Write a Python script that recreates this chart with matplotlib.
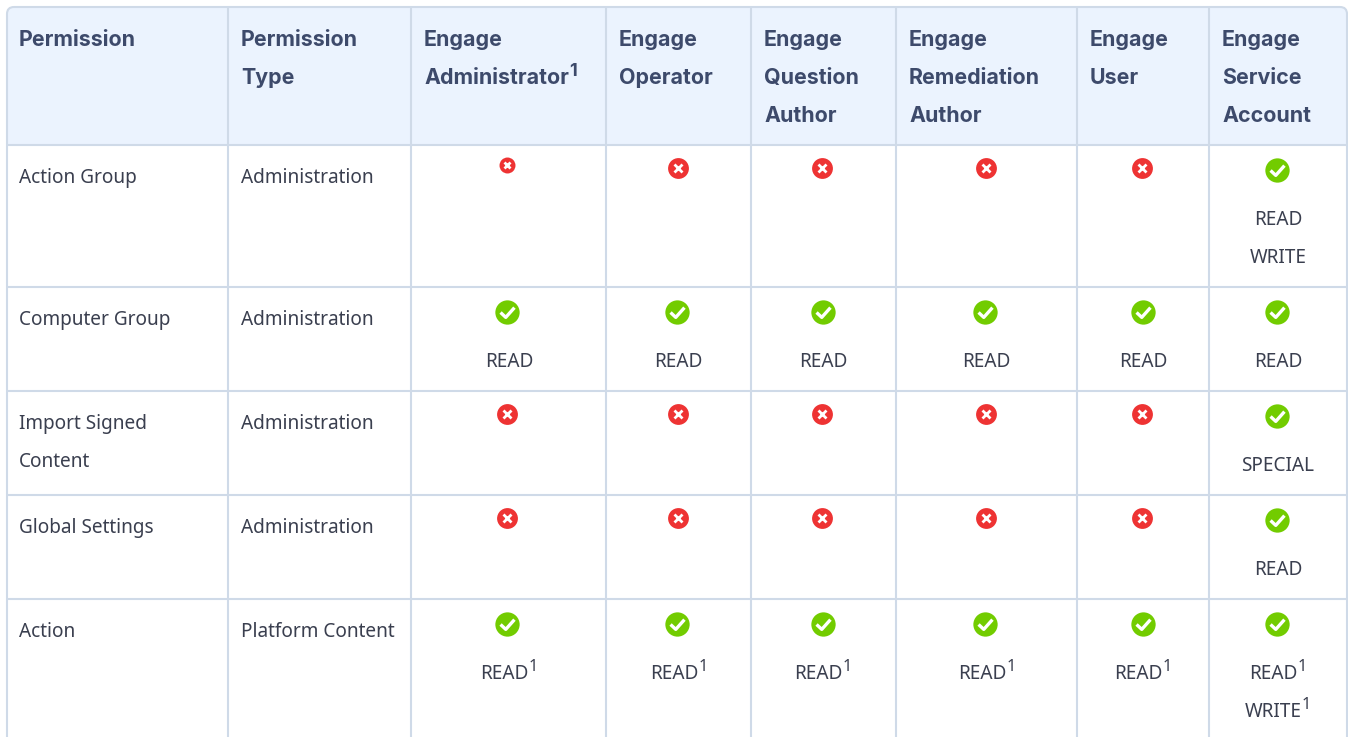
# permissions table
import matplotlib
matplotlib.use("Agg")
import matplotlib.pyplot as plt
from matplotlib.patches import FancyBboxPatch, Rectangle
from matplotlib.path import Path

# header lines, "^" marks a superscript 1
headers = [
    ["Permission"],
    ["Permission", "Type"],
    ["Engage", "Administrator^"],
    ["Engage", "Operator"],
    ["Engage", "Question", "Author"],
    ["Engage", "Remediation", "Author"],
    ["Engage", "User"],
    ["Engage", "Service", "Account"],
]
permissions = [["Action Group"], ["Computer Group"], ["Import Signed", "Content"], ["Global Settings"], ["Action"]]
permission_types = ["Administration", "Administration", "Administration", "Administration", "Platform Content"]

# one list per role, None = red cross, otherwise the access lines under the green tick
admin = [None, ["READ"], None, None, ["READ^"]]
operator = [None, ["READ"], None, None, ["READ^"]]
question_author = [None, ["READ"], None, None, ["READ^"]]
remediation_author = [None, ["READ"], None, None, ["READ^"]]
user = [None, ["READ"], None, None, ["READ^"]]
service_account = [["READ", "WRITE"], ["READ"], ["SPECIAL"], ["READ"], ["READ^", "WRITE^"]]
roles = [admin, operator, question_author, remediation_author, user, service_account]

# layout in pixels
col_edges = [7, 228, 411, 606, 751, 896, 1077, 1209, 1347]
row_edges = [7, 145, 287, 391, 495, 599]
header_x = [19, 241, 424, 619, 764, 909, 1090, 1222]
green_x = [507, 677, 823, 985, 1143, 1277]
red_x = [507, 678, 822, 986, 1142, 1277]
text_x = [509, 678.5, 823, 986.5, 1143, 1278]

border = "#CFDAE8"
header_bg = "#EBF3FE"
header_color = "#3D4A6B"
body_color = "#3A3F4F"
green = "#72CC00"
red = "#EE3333"
body_font = "Noto Sans"
head_font = "Inter"
body_size = 13.7
head_size = 15.4

check = Path([(-1, 0), (-0.25, -0.7), (1, 0.7)], [Path.MOVETO, Path.LINETO, Path.LINETO])


def label(ax, x, y, s, family, size, color, weight="normal", center=False):
    # text with an optional superscript 1 placed after it
    sup = s.endswith("^")
    s = s.rstrip("^")
    t = ax.text(x, y, s, family=family, fontsize=size, color=color, weight=weight, va="baseline", ha="left")
    rend = ax.figure.canvas.get_renderer()
    w = t.get_window_extent(rend).width
    if center:
        sup_w = 9 if sup else 0
        t.set_x(x - (w + sup_w) / 2)
    if sup:
        ax.text(t.get_position()[0] + w, y - 8, "1", family=family, fontsize=size * 0.85, color=color,
                weight=weight, va="baseline", ha="left")


fig = plt.figure(figsize=(13.48, 7.37), dpi=100)
ax = fig.add_axes([0, 0, 1, 1])
ax.set_xlim(0, 1348)
ax.set_ylim(737, 0)
ax.axis("off")

outer = FancyBboxPatch((col_edges[0], row_edges[0]), col_edges[-1] - col_edges[0], 900,
                       boxstyle="round,pad=0,rounding_size=7", fc="none", ec=border, lw=1.5, zorder=3)
head = Rectangle((col_edges[0], row_edges[0]), col_edges[-1] - col_edges[0], row_edges[1] - row_edges[0],
                 fc=header_bg, ec="none", zorder=1.5)
ax.add_patch(head)
ax.add_patch(outer)
head.set_clip_path(outer)

for x in col_edges[1:-1]:
    ax.plot([x, x], [row_edges[0], 737], color=border, lw=1.5, zorder=2, solid_capstyle="butt")
for y in row_edges[1:]:
    ax.plot([col_edges[0], col_edges[-1]], [y, y], color=border, lw=1.5, zorder=2, solid_capstyle="butt")

for x, lines in zip(header_x, headers):
    for i, s in enumerate(lines):
        label(ax, x, 46 + 38 * i, s, head_font, head_size, header_color, weight="bold")

for r, top in enumerate(row_edges[1:]):
    for i, s in enumerate(permissions[r]):
        label(ax, header_x[0], top + 38 + 38 * i, s, body_font, body_size, body_color)
    label(ax, header_x[1], top + 38, permission_types[r], body_font, body_size, body_color)
    for c, role in enumerate(roles):
        cell = role[r]
        if cell is None:
            # first cross of the admin column is drawn smaller in the page
            small = r == 0 and c == 0
            ms = 11.5 if small else 15
            y = top + (20 if small else 23)
            ax.plot(red_x[c], y, "o", ms=ms, mfc=red, mec="none", zorder=4)
            ax.plot(red_x[c], y, marker="x", ms=4 if small else 5.5, mec="white", mew=2, zorder=5)
        else:
            ax.plot(green_x[c], top + 25, "o", ms=17.5, mfc=green, mec="none", zorder=4)
            ax.plot(green_x[c], top + 25, marker=check, ms=10, mfc="none", mec="white", mew=2.4, zorder=5)
            for i, s in enumerate(cell):
                label(ax, text_x[c], top + 80 + 38 * i, s, body_font, body_size, body_color, center=True)

fig.savefig("out.png", dpi=100)
